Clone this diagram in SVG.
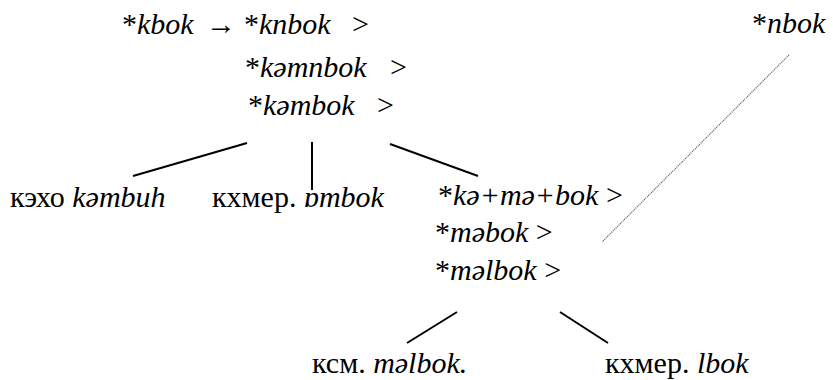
<svg xmlns="http://www.w3.org/2000/svg" width="833" height="380" viewBox="0 0 833 380">
<style>
.t{font-family:"Liberation Serif","Times New Roman",serif;font-size:30px;fill:#000}
.i{font-style:italic}
.ln{stroke:#000;stroke-width:2;fill:none}
.dot{stroke:#555;stroke-width:1.2;stroke-dasharray:1 1;fill:none}
</style>
<rect width="833" height="380" fill="#fff"/>
<g id="connectors">
<line class="ln" x1="247" y1="143" x2="133" y2="176"/>
<line class="ln" x1="312" y1="142" x2="312" y2="190"/>
<line class="ln" x1="390" y1="144" x2="478" y2="176"/>
<line class="ln" x1="457" y1="312" x2="407" y2="343"/>
<line class="ln" x1="560" y1="312" x2="608" y2="343"/>
<line class="dot" x1="789" y1="55" x2="602" y2="242"/>
</g>
<g id="n1"><text class="t" x="122" y="34">*<tspan class="i">kbok</tspan></text><text class="t" x="206" y="34">→</text><text class="t" x="244" y="34">*<tspan class="i">knbok</tspan></text><text class="t" x="352" y="34">&gt;</text></g>
<g id="n2"><text class="t" x="245" y="77">*<tspan class="i">kəmnbok</tspan></text><text class="t" x="390" y="77">&gt;</text></g>
<g id="n3"><text class="t" x="248" y="115">*<tspan class="i">kəmbok</tspan></text><text class="t" x="377" y="115">&gt;</text></g>
<g id="n4"><text class="t" x="10" y="207">кэхо <tspan class="i">kəmbuh</tspan></text></g>
<g id="n5"><text class="t" x="212" y="207">кхмер. <tspan class="i">ɒmbok</tspan></text></g>
<g id="n6"><text class="t" x="438" y="205">*<tspan class="i">kə+mə+bok</tspan> &gt;</text></g>
<g id="n7"><text class="t" x="435" y="242">*<tspan class="i">məbok</tspan> &gt;</text></g>
<g id="n8"><text class="t" x="435" y="280">*<tspan class="i">məlbok</tspan> &gt;</text></g>
<g id="n9"><text class="t" x="312" y="373">ксм. <tspan class="i">məlbok.</tspan></text></g>
<g id="n10"><text class="t" x="605" y="373">кхмер. <tspan class="i">lbok</tspan></text></g>
<g id="n11"><text class="t" x="752" y="33">*<tspan class="i">nbok</tspan></text></g>
</svg>
